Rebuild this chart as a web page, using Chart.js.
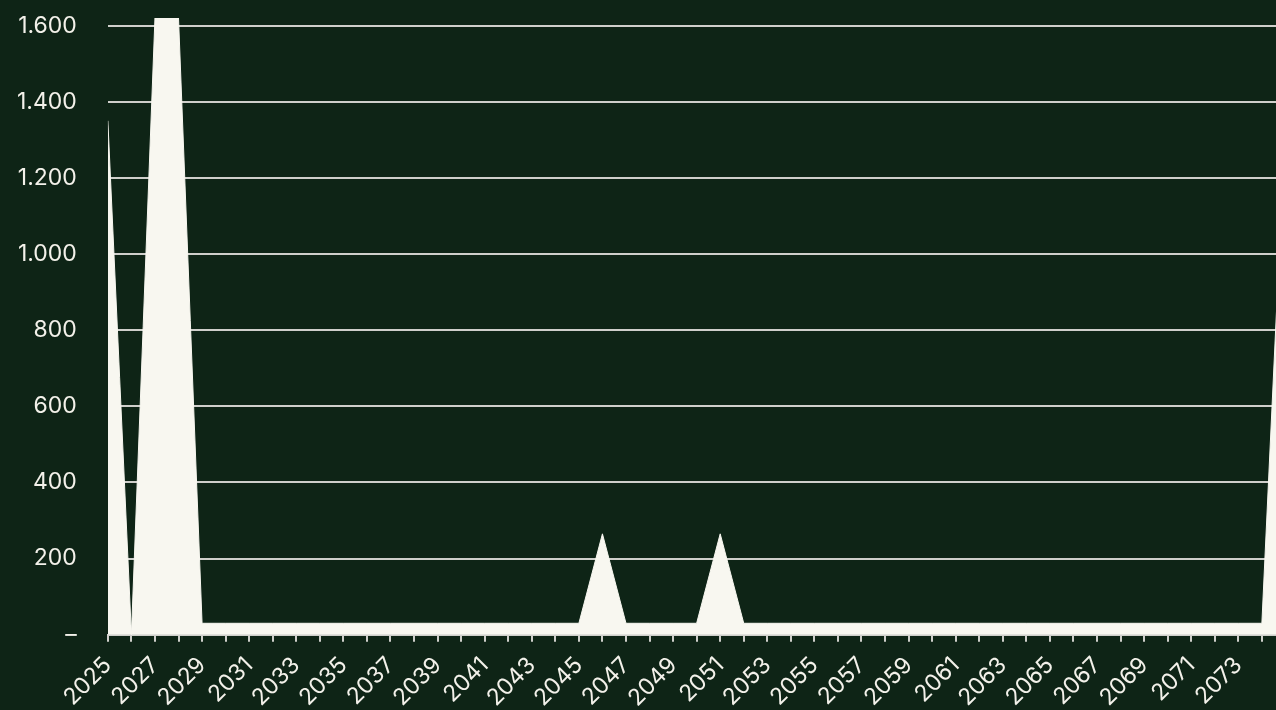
<!DOCTYPE html>
<html>
<head>
<meta charset="utf-8">
<script src="https://cdn.jsdelivr.net/npm/chart.js@4/dist/chart.umd.min.js"></script>
<style>
  html, body { margin: 0; padding: 0; background: #0E2416; overflow: hidden; }
  #wrap { position: relative; width: 1276px; height: 710px; }
</style>
</head>
<body>
<div id="wrap"><canvas id="c"></canvas></div>
<script>
const years = [];
for (let y = 2025; y <= 2075; y++) years.push(y);

const values = [
  1350, 0, 1620, 1620, 30, 30, 30, 30, 30, 30,
  30, 30, 30, 30, 30, 30, 30, 30, 30, 30,
  30, 265, 30, 30, 30, 30, 265, 30, 30, 30,
  30, 30, 30, 30, 30, 30, 30, 30, 30, 30,
  30, 30, 30, 30, 30, 30, 30, 30, 30, 30,
  1350
];

const yTicks = [0, 200, 400, 600, 800, 1000, 1200, 1400, 1600];
const yMax = 1620;
const xMin = 2025;
const xMax = 2074.6;

const fontFamily = 'Inter, "Noto Sans", sans-serif';
const textColor = '#F3F1EA';
const gridColor = '#CFCFCB';
const fillColor = '#F8F7F0';

function fmtThousands(v) {
  if (v === 0) return '–';
  return String(Math.round(v)).replace(/\B(?=(\d{3})+(?!\d))/g, '.');
}

new Chart(document.getElementById('c'), {
  type: 'line',
  data: {
    datasets: [{
      data: years.map((y, i) => ({ x: y, y: values[i] })),
      backgroundColor: fillColor,
      borderColor: fillColor,
      borderWidth: 1,
      fill: 'origin',
      tension: 0,
      pointRadius: 0
    }]
  },
  options: {
    responsive: true,
    maintainAspectRatio: false,
    animation: false,
    layout: { padding: { left: 17, top: 18, right: 0, bottom: -12 } },
    plugins: { legend: { display: false }, tooltip: { enabled: false } },
    scales: {
      x: {
        type: 'linear',
        min: xMin,
        max: xMax,
        afterFit: (s) => { s.paddingLeft = 0; s.paddingRight = 0; },
        border: { display: true, color: gridColor, width: 2 },
        grid: { drawOnChartArea: false, drawTicks: true, tickLength: 7, color: gridColor, lineWidth: 2 },
        ticks: {
          stepSize: 1,
          includeBounds: false,
          autoSkip: false,
          maxRotation: 45,
          minRotation: 45,
          color: textColor,
          padding: 10,
          font: { family: fontFamily, size: 23 },
          callback: (v) => (v % 2 === 1 ? String(v) : '')
        }
      },
      y: {
        min: 0,
        max: yMax,
        afterBuildTicks: (axis) => { axis.ticks = yTicks.map(v => ({ value: v })); },
        afterFit: (s) => { s.width -= s.options.ticks.padding; s.paddingTop = 0; s.paddingBottom = 0; },
        border: { display: false },
        grid: { drawTicks: false, color: gridColor, lineWidth: 2 },
        ticks: {
          padding: 31,
          color: textColor,
          font: { family: fontFamily, size: 23 },
          callback: (v) => fmtThousands(v)
        }
      }
    }
  }
});
</script>
</body>
</html>
